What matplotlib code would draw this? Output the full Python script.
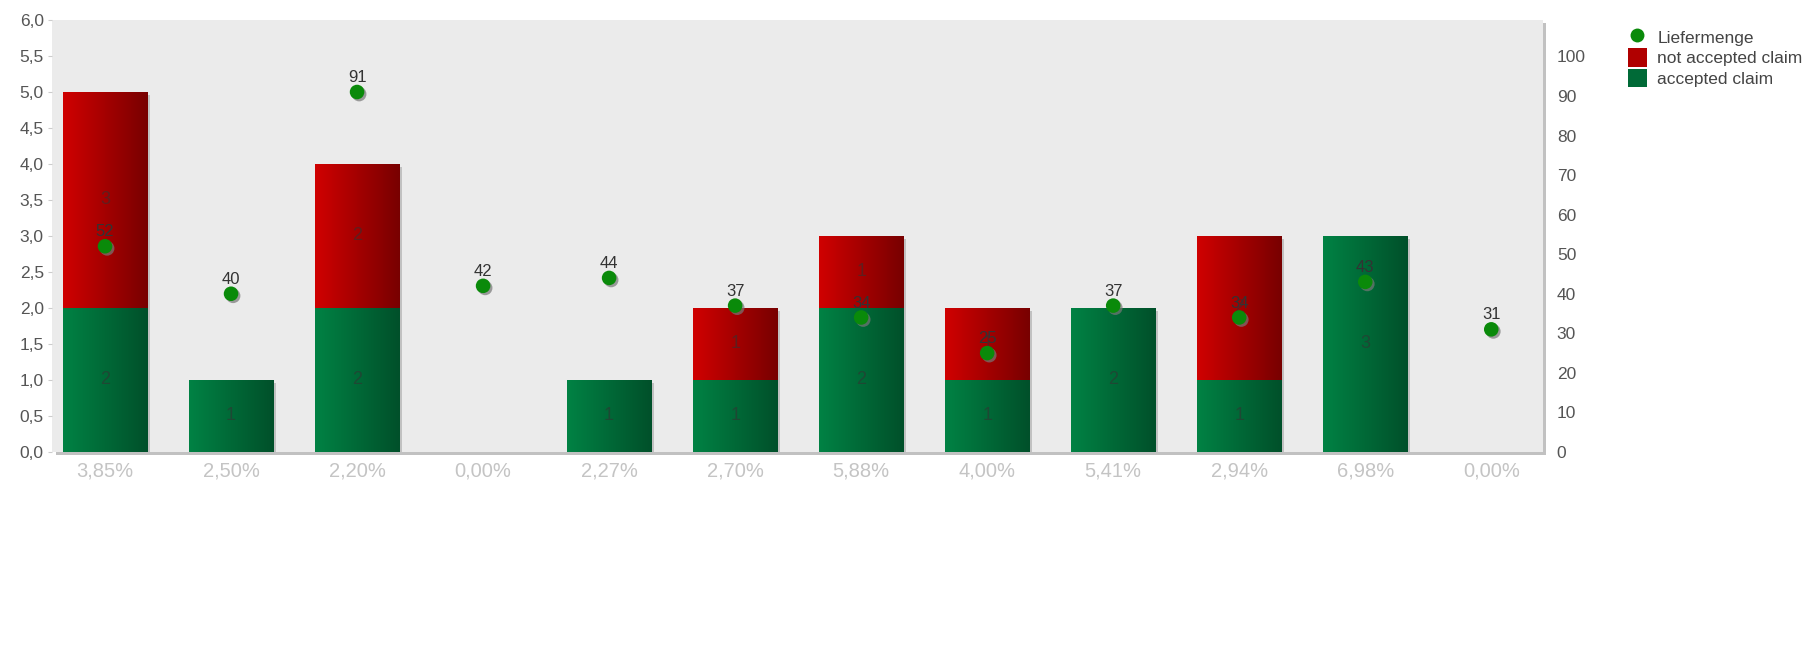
import numpy as np
import matplotlib
matplotlib.use("Agg")
import matplotlib.pyplot as plt
import matplotlib.patheffects as pe
from matplotlib.colors import LinearSegmentedColormap
from matplotlib.patches import Patch
from matplotlib.lines import Line2D

plt.rcParams['font.family'] = ['Liberation Sans', 'DejaVu Sans']

# data
categories = ['3,85%', '2,50%', '2,20%', '0,00%', '2,27%', '2,70%',
              '5,88%', '4,00%', '5,41%', '2,94%', '6,98%', '0,00%']
accepted = [2, 1, 2, 0, 1, 1, 2, 1, 2, 1, 3, 0]
not_accepted = [3, 0, 2, 0, 0, 1, 1, 1, 0, 2, 0, 0]
liefermenge = [52, 40, 91, 42, 44, 37, 34, 25, 37, 34, 43, 31]

green_cmap = LinearSegmentedColormap.from_list('g', ['#008244', '#00502a'])
red_cmap = LinearSegmentedColormap.from_list('r', ['#d00000', '#780000'])

fig = plt.figure(figsize=(18.15, 6.56), dpi=100)
ax = fig.add_axes([0.0287, 0.311, 0.8214, 0.6585])
ax.set_facecolor('#ebebeb')
ax.patch.set_path_effects([pe.SimplePatchShadow(offset=(2.5, -2), shadow_rgbFace='#999999', alpha=0.6), pe.Normal()])

x = np.arange(len(categories))
width = 0.667
grad = np.linspace(0, 1, 256).reshape(1, -1)


def gradient_bars(bottoms, heights, cmap, flat):
    bars = ax.bar(x, heights, width, bottom=bottoms, color=flat, linewidth=0, zorder=2)
    for b, h, xi, bot in zip(bars, heights, x, bottoms):
        if h == 0:
            continue
        b.set_path_effects([pe.SimplePatchShadow(offset=(2, -2), shadow_rgbFace='#999999', alpha=0.5), pe.Normal()])
        im = ax.imshow(grad, cmap=cmap, aspect='auto', zorder=3,
                       extent=(xi - width / 2, xi + width / 2, bot, bot + h))
        im.set_clip_path(b)
        ax.text(xi, bot + h / 2, str(h), ha='center', va='center', fontsize=13,
                color='#333333', alpha=0.6, zorder=4)
    return bars


gradient_bars([0] * len(x), accepted, green_cmap, '#006a37')
gradient_bars(accepted, not_accepted, red_cmap, '#a50000')

ax.set_xlim(-0.42, len(x) - 1 + 0.41)
ax.set_ylim(0, 6)
ax.set_yticks(np.arange(0, 6.01, 0.5))
ax.set_yticklabels([f'{v:.1f}'.replace('.', ',') for v in np.arange(0, 6.01, 0.5)])
ax.set_xticks(x)
ax.set_xticklabels(categories)
ax.tick_params(axis='x', length=0, labelsize=14.5, labelcolor='#c4c4c4', pad=7)
ax.tick_params(axis='y', length=3, color='#cccccc', labelsize=12.5, labelcolor='#555555', pad=3)
for s in ax.spines.values():
    s.set_visible(False)

ax2 = ax.twinx()
ax2.set_ylim(0, 109.2)
ax2.set_yticks(range(0, 101, 10))
ax2.tick_params(axis='y', length=0, labelsize=12.5, labelcolor='#555555', pad=10)
for s in ax2.spines.values():
    s.set_visible(False)

sc = ax2.scatter(x, liefermenge, s=110, color='#0a8a0a', zorder=5, linewidth=0)
sc.set_path_effects([pe.SimplePatchShadow(offset=(1.5, -1.5), shadow_rgbFace='#777777', alpha=0.7), pe.Normal()])
for xi, v in zip(x, liefermenge):
    ax2.annotate(str(v), (xi, v), xytext=(0, 5), textcoords='offset points',
                 ha='center', va='bottom', fontsize=12, color='#333333', zorder=6)

handles = [
    Line2D([0], [0], marker='o', linestyle='none', markersize=10,
           markerfacecolor='#0a8a0a', markeredgewidth=0),
    Patch(facecolor='#b00000', edgecolor='none'),
    Patch(facecolor='#006a37', edgecolor='none'),
]
fig.legend(handles, ['Liefermenge', 'not accepted claim', 'accepted claim'],
           loc='upper left', bbox_to_anchor=(0.893, 0.968), frameon=False,
           fontsize=12.5, labelcolor='#444444', handlelength=1.1, handleheight=1.25,
           handletextpad=0.6, labelspacing=0.12, borderaxespad=0)

fig.savefig('out.png', dpi=100, facecolor='white')
